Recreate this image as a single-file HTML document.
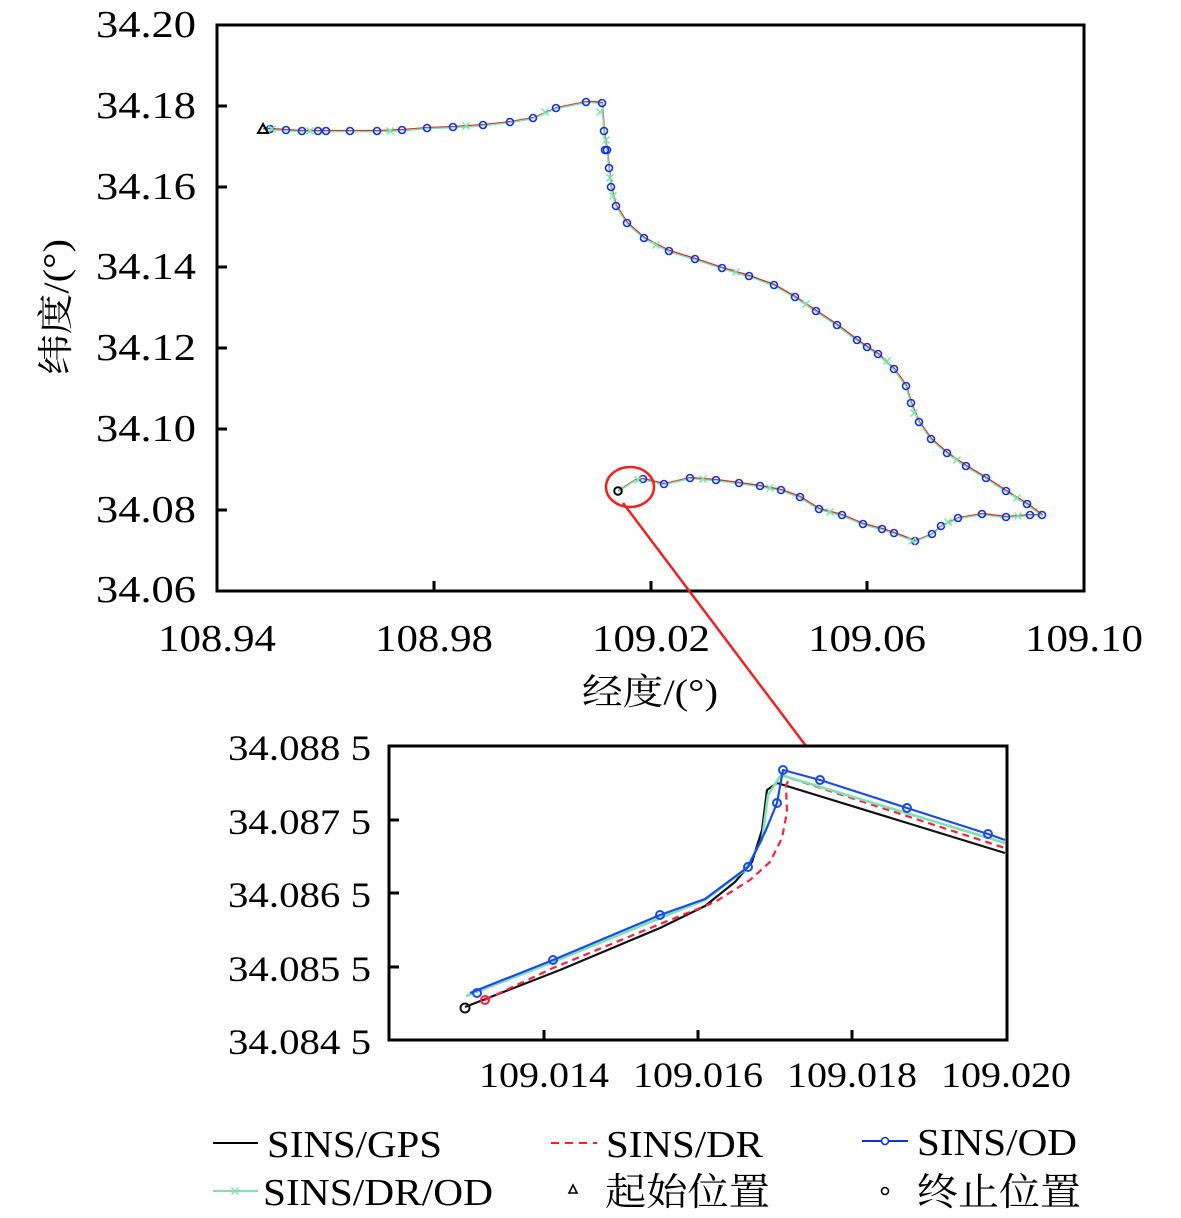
<!DOCTYPE html>
<html><head><meta charset="utf-8"><style>body{margin:0;background:#fff}svg{display:block}text{font-family:"Liberation Serif","Noto Serif CJK SC",serif;fill:#000}</style></head><body>
<svg width="1181" height="1218" viewBox="0 0 1181 1218" xmlns="http://www.w3.org/2000/svg">
<defs>
<g id="cx"><path d="M-3.5,-3.5L3.5,3.5M-3.5,3.5L3.5,-3.5" stroke="#7fe0b0" stroke-width="1.5"/></g>
</defs>
<!-- main frame -->
<rect x="217" y="25" width="867" height="566" fill="none" stroke="#000" stroke-width="3"/>
<g stroke="#000" stroke-width="3">
<path d="M217,106h10M217,187h10M217,267h10M217,348h10M217,429h10M217,510h10"/>
<path d="M434,591v-10M651,591v-10M867,591v-10"/>
</g>
<g font-size="38" text-anchor="end">
<text x="196" y="37" textLength="100" lengthAdjust="spacingAndGlyphs">34.20</text>
<text x="196" y="118" textLength="100" lengthAdjust="spacingAndGlyphs">34.18</text>
<text x="196" y="199" textLength="100" lengthAdjust="spacingAndGlyphs">34.16</text>
<text x="196" y="279" textLength="100" lengthAdjust="spacingAndGlyphs">34.14</text>
<text x="196" y="360" textLength="100" lengthAdjust="spacingAndGlyphs">34.12</text>
<text x="196" y="441" textLength="100" lengthAdjust="spacingAndGlyphs">34.10</text>
<text x="196" y="522" textLength="100" lengthAdjust="spacingAndGlyphs">34.08</text>
<text x="196" y="602" textLength="100" lengthAdjust="spacingAndGlyphs">34.06</text>
</g>
<g font-size="38" text-anchor="middle">
<text x="217" y="651" textLength="118" lengthAdjust="spacingAndGlyphs">108.94</text>
<text x="434" y="651" textLength="118" lengthAdjust="spacingAndGlyphs">108.98</text>
<text x="651" y="651" textLength="118" lengthAdjust="spacingAndGlyphs">109.02</text>
<text x="867" y="651" textLength="118" lengthAdjust="spacingAndGlyphs">109.06</text>
<text x="1084" y="651" textLength="118" lengthAdjust="spacingAndGlyphs">109.10</text>
<text x="650" y="704" font-size="36" textLength="136" lengthAdjust="spacingAndGlyphs">经度/(°)</text>
</g>
<text transform="translate(68,307) rotate(-90)" font-size="36" text-anchor="middle" textLength="136" lengthAdjust="spacingAndGlyphs">纬度/(°)</text>
<!-- main path -->
<g fill="none" stroke-linejoin="round">
<polyline id="p" points="263,129 270,129 286,130 302,131 318,131 326,131 350,131 377,131 402,130 427,128 453,127 483,125 510,122 533,118 556,108 586,102 593,102 602,103 604,131 607,150 609,168 611,187 616,206 627,223 644,238 669,251 695,259 722,268 749,276 774,285 795,297 816,311 837,325 857,340 867,347 878,354 894,369 906,386 911,403 919,422 931,439 947,453 966,466 986,478 1006,491 1027,504 1042,515 1030,515 1006,517 982,514 958,518 941,526 932,534 915,541 894,533 882,529 863,524 842,515 819,509 800,497 781,490 760,486 739,483 716,480 690,478 664,484 643,479 635,480 618,491" stroke="#000" stroke-width="1.3"/>
<polyline points="263,129 270,129 286,130 302,131 318,131 326,131 350,131 377,131 402,130 427,128 453,127 483,125 510,122 533,118 556,108 586,102 593,102 602,103 604,131 607,150 609,168 611,187 616,206 627,223 644,238 669,251 695,259 722,268 749,276 774,285 795,297 816,311 837,325 857,340 867,347 878,354 894,369 906,386 911,403 919,422 931,439 947,453 966,466 986,478 1006,491 1027,504 1042,515 1030,515 1006,517 982,514 958,518 941,526 932,534 915,541 894,533 882,529 863,524 842,515 819,509 800,497 781,490 760,486 739,483 716,480 690,478 664,484 643,479 635,480 618,491" stroke="#ff2020" stroke-width="1" transform="translate(0.6,-0.6)"/>
<polyline points="263,129 270,129 286,130 302,131 318,131 326,131 350,131 377,131 402,130 427,128 453,127 483,125 510,122 533,118 556,108 586,102 593,102 602,103 604,131 607,150 609,168 611,187 616,206 627,223 644,238 669,251 695,259 722,268 749,276 774,285 795,297 816,311 837,325 857,340 867,347 878,354 894,369 906,386 911,403 919,422 931,439 947,453 966,466 986,478 1006,491 1027,504 1042,515 1030,515 1006,517 982,514 958,518 941,526 932,534 915,541 894,533 882,529 863,524 842,515 819,509 800,497 781,490 760,486 739,483 716,480 690,478 664,484 643,479 635,480 618,491" stroke="#7fe0b0" stroke-width="1.5" transform="translate(0,0.6)"/>
</g>
<g fill="none" stroke="#1030e0" stroke-width="1.6">
<circle cx="270" cy="129" r="3.5"/><circle cx="286" cy="130" r="3.5"/><circle cx="302" cy="131" r="3.5"/><circle cx="318" cy="131" r="3.5"/><circle cx="326" cy="131" r="3.5"/><circle cx="350" cy="131" r="3.5"/><circle cx="377" cy="131" r="3.5"/><circle cx="402" cy="130" r="3.5"/><circle cx="427" cy="128" r="3.5"/><circle cx="453" cy="127" r="3.5"/><circle cx="483" cy="125" r="3.5"/><circle cx="510" cy="122" r="3.5"/><circle cx="533" cy="118" r="3.5"/><circle cx="556" cy="108" r="3.5"/><circle cx="586" cy="102" r="3.5"/><circle cx="602" cy="103" r="3.5"/><circle cx="604" cy="131" r="3.5"/><circle cx="605" cy="150" r="3.5"/><circle cx="607" cy="150" r="3.5"/><circle cx="609" cy="168" r="3.5"/><circle cx="611" cy="187" r="3.5"/><circle cx="616" cy="206" r="3.5"/><circle cx="627" cy="223" r="3.5"/><circle cx="644" cy="238" r="3.5"/><circle cx="669" cy="251" r="3.5"/><circle cx="695" cy="259" r="3.5"/><circle cx="722" cy="268" r="3.5"/><circle cx="749" cy="276" r="3.5"/><circle cx="774" cy="285" r="3.5"/><circle cx="795" cy="297" r="3.5"/><circle cx="816" cy="311" r="3.5"/><circle cx="837" cy="325" r="3.5"/><circle cx="857" cy="340" r="3.5"/><circle cx="867" cy="347" r="3.5"/><circle cx="878" cy="354" r="3.5"/><circle cx="894" cy="369" r="3.5"/><circle cx="906" cy="386" r="3.5"/><circle cx="911" cy="403" r="3.5"/><circle cx="919" cy="422" r="3.5"/><circle cx="931" cy="439" r="3.5"/><circle cx="947" cy="453" r="3.5"/><circle cx="966" cy="466" r="3.5"/><circle cx="986" cy="478" r="3.5"/><circle cx="1006" cy="491" r="3.5"/><circle cx="1027" cy="504" r="3.5"/><circle cx="1042" cy="515" r="3.5"/><circle cx="1030" cy="515" r="3.5"/><circle cx="1006" cy="517" r="3.5"/><circle cx="982" cy="514" r="3.5"/><circle cx="958" cy="518" r="3.5"/><circle cx="941" cy="526" r="3.5"/><circle cx="932" cy="534" r="3.5"/><circle cx="915" cy="541" r="3.5"/><circle cx="894" cy="533" r="3.5"/><circle cx="882" cy="529" r="3.5"/><circle cx="863" cy="524" r="3.5"/><circle cx="842" cy="515" r="3.5"/><circle cx="819" cy="509" r="3.5"/><circle cx="800" cy="497" r="3.5"/><circle cx="781" cy="490" r="3.5"/><circle cx="760" cy="486" r="3.5"/><circle cx="739" cy="483" r="3.5"/><circle cx="716" cy="480" r="3.5"/><circle cx="690" cy="478" r="3.5"/><circle cx="664" cy="484" r="3.5"/><circle cx="643" cy="479" r="3.5"/>
</g>
<g>
<use href="#cx" x="272" y="129"/><use href="#cx" x="310" y="131"/><use href="#cx" x="390" y="131"/><use href="#cx" x="466" y="126"/><use href="#cx" x="545" y="112"/><use href="#cx" x="600" y="112"/><use href="#cx" x="606" y="140"/><use href="#cx" x="610" y="178"/><use href="#cx" x="613" y="196"/><use href="#cx" x="656" y="245"/><use href="#cx" x="736" y="272"/><use href="#cx" x="806" y="304"/><use href="#cx" x="887" y="361"/><use href="#cx" x="914" y="413"/><use href="#cx" x="957" y="460"/><use href="#cx" x="1017" y="498"/><use href="#cx" x="1018" y="516"/><use href="#cx" x="948" y="522"/><use href="#cx" x="912" y="541"/><use href="#cx" x="830" y="512"/><use href="#cx" x="770" y="488"/><use href="#cx" x="703" y="479"/><use href="#cx" x="638" y="480"/>
</g>
<path d="M263,124L268,133L258,133Z" fill="none" stroke="#000" stroke-width="2"/>
<circle cx="618" cy="491" r="3.8" fill="none" stroke="#000" stroke-width="2"/>
<!-- red circle & connector -->
<ellipse cx="630" cy="487" rx="24" ry="20" fill="none" stroke="#ee2222" stroke-width="2.5"/>
<line x1="623" y1="503" x2="806" y2="746" stroke="#ee2222" stroke-width="2.5"/>
<!-- inset -->
<rect x="389" y="746" width="618" height="294" fill="none" stroke="#000" stroke-width="3"/>
<g stroke="#000" stroke-width="3">
<path d="M389,820h10M389,893h10M389,967h10"/>
<path d="M544,1040v-10M698,1040v-10M852,1040v-10"/>
</g>
<g font-size="36" text-anchor="end">
<text x="371" y="760" textLength="143" lengthAdjust="spacingAndGlyphs">34.088 5</text>
<text x="371" y="834" textLength="143" lengthAdjust="spacingAndGlyphs">34.087 5</text>
<text x="371" y="907" textLength="143" lengthAdjust="spacingAndGlyphs">34.086 5</text>
<text x="371" y="981" textLength="143" lengthAdjust="spacingAndGlyphs">34.085 5</text>
<text x="371" y="1054" textLength="143" lengthAdjust="spacingAndGlyphs">34.084 5</text>
</g>
<g font-size="36" text-anchor="middle">
<text x="544" y="1087" textLength="130" lengthAdjust="spacingAndGlyphs">109.014</text>
<text x="698" y="1087" textLength="130" lengthAdjust="spacingAndGlyphs">109.016</text>
<text x="852" y="1087" textLength="130" lengthAdjust="spacingAndGlyphs">109.018</text>
<text x="1006" y="1087" textLength="130" lengthAdjust="spacingAndGlyphs">109.020</text>
</g>
<g fill="none" stroke-width="2.2" stroke-linejoin="round">
<polyline points="465,1007 560,970 660,928 705,906 735,882 752,862 762,830 767,790 777,783 1005,853" stroke="#111"/>
<polyline points="485,1000 553,968 660,924 715,902 750,880 770,862 782,838 787,812 786,785 790,778 1005,848" stroke="#ff2040" stroke-dasharray="7,5"/>
<polyline points="466,996 553,962 660,918 705,900 745,870 762,840 768,795 781,775 1005,843" stroke="#7fe0b0" stroke-width="2.6"/>
<polyline points="470,993 553,960 660,915 705,899 748,867 766,830 777,803 783,770 820,780 907,808 988,834 1005,840" stroke="#1a4ae8"/>
</g>
<g fill="none" stroke="#1a4ae8" stroke-width="2">
<circle cx="477" cy="993" r="4"/><circle cx="553" cy="960" r="4"/><circle cx="660" cy="915" r="4"/><circle cx="748" cy="867" r="4"/><circle cx="777" cy="803" r="4"/><circle cx="783" cy="770" r="4"/><circle cx="820" cy="780" r="4"/><circle cx="907" cy="808" r="4"/><circle cx="988" cy="834" r="4"/>
</g>
<circle cx="485" cy="1000" r="4" fill="none" stroke="#ff2040" stroke-width="2"/>
<circle cx="465" cy="1008" r="4.5" fill="none" stroke="#111" stroke-width="2"/>
<!-- legend -->
<line x1="213" y1="1143" x2="258" y2="1143" stroke="#000" stroke-width="2"/>
<line x1="551" y1="1143" x2="597" y2="1143" stroke="#ff2020" stroke-width="2" stroke-dasharray="8,6"/>
<line x1="862" y1="1141" x2="908" y2="1141" stroke="#1030e0" stroke-width="2"/>
<circle cx="885" cy="1141" r="3.5" fill="#fff" stroke="#1030e0" stroke-width="1.6"/>
<line x1="213" y1="1191" x2="258" y2="1191" stroke="#7fe0b0" stroke-width="2"/>
<use href="#cx" x="235" y="1191"/>
<path d="M573,1185L577,1193L569,1193Z" fill="none" stroke="#000" stroke-width="1.6"/>
<circle cx="885" cy="1191" r="3.5" fill="none" stroke="#000" stroke-width="1.6"/>
<g font-size="38">
<text x="267" y="1157" textLength="175" lengthAdjust="spacingAndGlyphs">SINS/GPS</text>
<text x="606" y="1157" textLength="157" lengthAdjust="spacingAndGlyphs">SINS/DR</text>
<text x="917" y="1155" textLength="160" lengthAdjust="spacingAndGlyphs">SINS/OD</text>
<text x="263" y="1205" textLength="230" lengthAdjust="spacingAndGlyphs">SINS/DR/OD</text>
<text x="605" y="1205" textLength="165" lengthAdjust="spacingAndGlyphs">起始位置</text>
<text x="917" y="1205" textLength="164" lengthAdjust="spacingAndGlyphs">终止位置</text>
</g>
</svg>
</body></html>
